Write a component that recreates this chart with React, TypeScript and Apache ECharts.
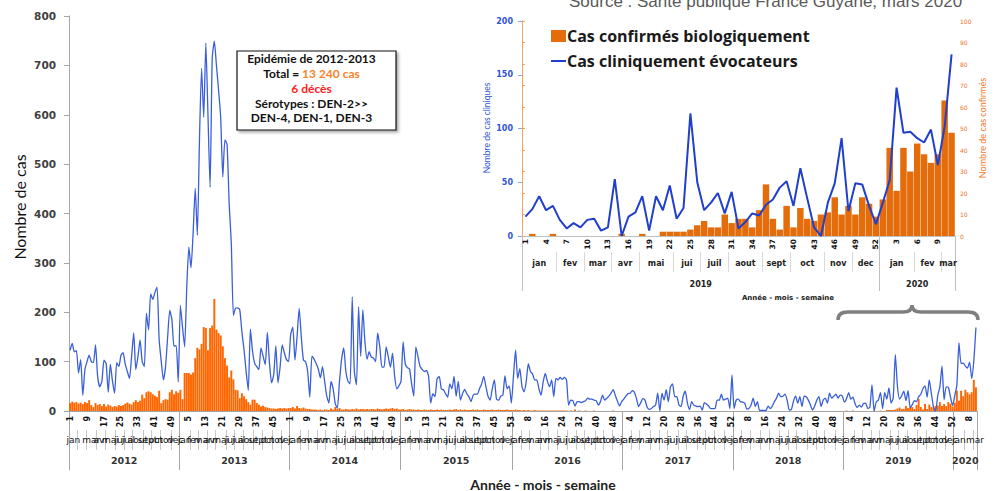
import React, { useEffect, useRef } from "react";
import * as echarts from "echarts";

// ---------- DATA ----------
const yearList = [2012, 2013, 2014, 2015, 2016, 2017, 2018, 2019, 2020];
const weeksInYear = [52, 52, 52, 53, 52, 52, 52, 52, 11];
const monthNames = ["jan", "fev", "mar", "avr", "mai", "jui", "juil", "aout", "sept", "oct", "nov", "dec"];

// Cas cliniquement évocateurs (weekly)
const clin2012 = [123,137,120,122,77,104,32,84,100,113,100,98,134,70,49,60,103,96,38,95,60,36,98,90,113,118,95,80,66,110,158,84,110,144,100,90,198,164,237,226,240,251,144,100,63,90,150,204,185,131,133,59];
const clin2013 = [214,170,130,250,332,290,360,451,356,550,694,595,745,600,453,714,749,700,650,595,474,549,540,420,340,194,208,209,205,160,124,80,42,166,121,97,90,84,128,111,94,159,97,57,74,132,57,89,134,118,104,100];
const clin2014 = [155,170,103,150,208,150,103,100,80,28,111,105,96,85,67,90,60,30,16,60,45,15,6,60,105,128,80,60,55,231,80,53,211,111,205,140,105,120,109,107,100,158,130,89,89,130,110,89,117,70,45,51];
const clin2015 = [60,140,95,88,85,55,30,130,110,90,84,80,82,70,16,35,29,65,70,45,43,35,28,55,45,70,30,60,22,35,44,35,29,19,32,34,34,45,55,70,50,30,22,45,63,24,22,30,32,71,45,51,16];
const clin2016 = [70,123,66,86,50,39,59,96,80,75,63,63,45,32,59,76,60,49,63,29,66,63,68,64,68,63,12,22,21,10,19,19,17,19,21,26,24,24,22,21,12,19,32,22,26,30,36,43,32,20,10,19];
const clin2017 = [24,30,35,36,41,38,25,9,17,25,22,8,3,5,9,12,36,0,36,22,43,19,49,55,29,29,12,9,30,40,16,3,19,12,10,9,10,2,17,14,10,5,5,5,22,22,34,22,24,26,5,73];
const clin2018 = [5,22,24,19,18,16,4,5,12,26,9,19,1,1,1,1,10,5,10,19,26,36,29,30,34,22,2,3,20,30,16,29,9,30,29,22,12,2,10,22,29,9,22,26,16,36,26,30,34,26,32,30];
const clin2019 = [18,25,37,24,28,15,7,12,8,15,16,5,8,53,0,18,22,37,5,37,24,47,16,26,114,50,24,31,40,21,41,7,13,21,19,29,34,45,51,28,63,35,8,0,31,49,91,23,49,48,28,11];
const clin2020 = [31,52,138,96,97,91,87,99,66,102,169];

// Cas confirmés biologiquement (weekly)
const conf2012 = [16,19,17,18,15,17,14,18,16,22,12,8,16,12,14,10,14,9,13,11,8,10,9,12,10,12,15,17,15,13,18,22,18,21,33,26,38,40,38,34,31,28,41,16,22,24,23,38,43,34,40,37];
const conf2013 = [43,24,77,77,77,74,78,107,128,125,136,170,168,123,168,173,227,165,158,153,131,107,92,68,82,64,43,42,26,36,30,24,18,13,23,23,16,13,9,11,8,7,6,5,5,4,5,6,5,6,5,6];
const conf2014 = [6,8,5,10,6,5,7,5,4,4,3,3,3,2,3,2,3,3,2,5,3,8,4,6,3,3,4,3,3,4,3,5,3,4,4,3,4,3,4,4,3,5,4,3,4,5,4,5,6,4,5,3];
const conf2015 = [3,4,2,3,4,3,3,2,3,2,2,3,2,2,3,2,2,3,2,3,2,2,2,3,2,3,4,2,3,2,3,2,2,2,3,2,3,2,2,3,2,2,2,3,2,2,3,2,2,2,3,2,2];
const conf2016 = [2,3,2,2,1,2,1,2,1,1,2,1,1,1,1,1,1,1,1,1,1,1,1,1,1,1,0,1,0,3,0,1,0,0,1,0,0,0,1,0,0,0,0,0,0,0,0,1,0,0,0,0];
const conf2017 = [0,0,0,0,0,0,0,0,0,0,0,0,0,0,0,0,0,0,0,0,0,0,0,0,0,0,0,0,0,0,0,0,0,0,0,0,0,0,0,0,0,0,0,0,0,0,0,0,0,0,0,0];
const conf2018 = [0,0,0,0,0,0,0,0,0,0,0,0,0,0,0,0,0,0,0,0,0,0,0,0,0,0,0,0,0,0,0,0,0,0,0,0,0,0,0,0,0,0,0,0,0,0,0,0,0,0,0,0];
const conf2019 = [0,1,0,0,1,0,0,0,0,0,0,0,0,0,1,0,0,1,0,0,2,2,2,2,3,5,7,4,4,10,6,8,8,4,12,24,8,3,14,4,13,8,7,10,11,18,10,14,10,18,15,9];
const conf2020 = [17,41,21,41,30,43,38,34,38,63,48];

const SERIES_CONF = "Cas confirmés biologiquement";
const SERIES_CLIN = "Cas cliniquement évocateurs";

// ---------- helpers (labels / grouping) ----------
type Wk = { year: number; week: number; month: number };
function buildWeeks(years: number[], counts: number[]): Wk[] {
  const out: Wk[] = [];
  years.forEach((y, i) => {
    const jan1 = Date.UTC(y, 0, 1);
    const dow = new Date(jan1).getUTCDay();
    const thu = jan1 + ((4 - dow + 7) % 7) * 86400000;
    for (let w = 1; w <= counts[i]; w++) {
      const d = new Date(thu + (w - 1) * 7 * 86400000);
      out.push({ year: y, week: w, month: d.getUTCMonth() });
    }
  });
  return out;
}
type Grp = { key: string; start: number; end: number; label: string };
function group(weeks: Wk[], keyFn: (w: Wk) => string, labelFn: (w: Wk) => string): Grp[] {
  const gs: Grp[] = [];
  weeks.forEach((w, i) => {
    const k = keyFn(w);
    const last = gs[gs.length - 1];
    if (last && last.key === k) last.end = i + 1;
    else gs.push({ key: k, start: i, end: i + 1, label: labelFn(w) });
  });
  return gs;
}
function groupAxis(gridIndex: number, groups: Grp[], n: number, offset: number, tickLen: number, tickColor: string, margin: number, labelStyle: any) {
  const centers = groups.map((g) => (g.start + g.end) / 2);
  const bounds = groups.map((g) => g.start).concat([n]);
  return {
    type: "value", gridIndex, position: "bottom", offset, min: 0, max: n,
    axisLine: { show: false, onZero: false },
    splitLine: { show: false },
    axisTick: { show: true, customValues: bounds, length: tickLen, lineStyle: { color: tickColor, width: 1 } },
    axisLabel: {
      customValues: centers, margin, hideOverlap: false, showMinLabel: true, showMaxLabel: true,
      formatter: (v: number) => { const i = centers.findIndex((c) => Math.abs(c - v) < 1e-6); return i >= 0 ? groups[i].label : ""; },
      ...labelStyle,
    },
  };
}

const BRACE_PATH = "M0,16 Q0,8 10,8 L65,8 Q74,8 74,1 Q74,8 83,8 L130,8 Q140,8 140,16";

function buildOption() {
  const weeks = buildWeeks(yearList, weeksInYear);
  const N = weeks.length;
  const clinAll = [...clin2012, ...clin2013, ...clin2014, ...clin2015, ...clin2016, ...clin2017, ...clin2018, ...clin2019, ...clin2020];
  const confAll = [...conf2012, ...conf2013, ...conf2014, ...conf2015, ...conf2016, ...conf2017, ...conf2018, ...conf2019, ...conf2020];
  const mainCats = weeks.map((w) => `${w.year}-${w.week}`);
  const monthGroups = group(weeks, (w) => `${w.year}-${w.month}`, (w) => monthNames[w.month]);
  const yearGroups = group(weeks, (w) => `${w.year}`, (w) => `${w.year}`);

  const insetWeeks = buildWeeks([2019, 2020], [52, 11]);
  const M = insetWeeks.length;
  const insetCats = insetWeeks.map((w) => `${w.year}-${w.week}`);
  const insetClin = [...clin2019, ...clin2020];
  const insetConf = [...conf2019, ...conf2020];
  const insetMonths = group(insetWeeks, (w) => `${w.year}-${w.month}`, (w) => monthNames[w.month]);
  const insetYears = group(insetWeeks, (w) => `${w.year}`, (w) => `${w.year}`);

  const dv = "DejaVu Sans";
  return {
    animation: false,
    textStyle: { fontFamily: dv },
    grid: [
      { left: 69, right: 20, top: 16, bottom: 80 },
      { left: 522, right: 42, top: 21, bottom: 255 },
    ],
    legend: {
      orient: "vertical", left: 546, top: 23, itemGap: 9, itemWidth: 15, itemHeight: 12,
      selectedMode: false,
      textStyle: { fontFamily: "Open Sans", fontWeight: "bold", fontSize: 16, color: "#1a1a1a", padding: [0, 0, 0, -4] },
      data: [
        { name: SERIES_CONF, icon: "rect", itemStyle: { color: "#e46c0a" } },
        { name: SERIES_CLIN, icon: "path://M0,0 L20,0 L20,2.6 L0,2.6 Z", itemStyle: { color: "#1f3fcc" } },
      ],
    },
    xAxis: [
      {
        type: "category", gridIndex: 0, position: "bottom", data: mainCats, boundaryGap: true,
        axisLine: { onZero: false, lineStyle: { color: "#a6a6a6" } },
        axisTick: { interval: 0, length: 18, lineStyle: { color: "#b8b8b8" } },
        axisLabel: { interval: 7, rotate: 90, margin: 5, fontSize: 8, fontWeight: "bold", color: "#111", formatter: (v: string) => v.split("-")[1] },
      },
      groupAxis(0, monthGroups, N, 19, 20, "#c8c8c8", 5, { fontSize: 9, color: "#111" }),
      groupAxis(0, yearGroups, N, 0, 59, "#a6a6a6", 44, { fontSize: 9.5, fontWeight: "bold", color: "#333" }),
      {
        type: "category", gridIndex: 1, position: "bottom", data: insetCats, boundaryGap: true,
        axisLine: { onZero: false, lineStyle: { color: "#bfbfbf" } },
        axisTick: { interval: 0, length: 4, lineStyle: { color: "#bfbfbf" } },
        axisLabel: { interval: 2, rotate: 90, margin: 3, fontSize: 7.5, fontWeight: "bold", color: "#111", formatter: (v: string) => v.split("-")[1] },
      },
      groupAxis(1, insetMonths, M, 16, 20, "#d9d9d9", 7, { fontSize: 8, fontWeight: "bold", color: "#222" }),
      groupAxis(1, insetYears, M, 0, 55, "#bfbfbf", 44, { fontSize: 8, fontWeight: "bold", color: "#222" }),
    ],
    yAxis: [
      {
        type: "value", gridIndex: 0, min: 0, max: 800, interval: 100,
        axisLine: { show: true, lineStyle: { color: "#a6a6a6" } },
        axisTick: { show: true, length: 5, lineStyle: { color: "#a6a6a6" } },
        splitLine: { show: false },
        axisLabel: { margin: 13, fontSize: 10.5, fontWeight: "bold", color: "#404040" },
      },
      {
        type: "value", gridIndex: 1, position: "left", min: 0, max: 200, interval: 50,
        axisLine: { show: true, lineStyle: { color: "#8ea2de" } },
        axisTick: { show: true, length: 4, lineStyle: { color: "#8ea2de" } },
        splitLine: { show: false },
        axisLabel: { margin: 9, fontSize: 8, fontWeight: "bold", color: "#2f55d4" },
      },
      {
        type: "value", gridIndex: 1, position: "right", min: 0, max: 100, interval: 10,
        axisLine: { show: true, lineStyle: { color: "#f4a460" } },
        axisTick: { show: true, length: 3, lineStyle: { color: "#f4a460" } },
        splitLine: { show: false },
        axisLabel: { margin: 5, fontSize: 6, color: "#e8742a" },
      },
    ],
    series: [
      { type: "bar", name: SERIES_CONF, xAxisIndex: 3, yAxisIndex: 2, data: insetConf, barCategoryGap: "6%", itemStyle: { color: "#e46c0a" } },
      { type: "line", name: SERIES_CLIN, xAxisIndex: 3, yAxisIndex: 1, data: insetClin, symbol: "none", lineStyle: { color: "#1f3fcc", width: 2 }, itemStyle: { color: "#1f3fcc" } },
      { type: "bar", name: SERIES_CONF, xAxisIndex: 0, yAxisIndex: 0, data: confAll, barCategoryGap: "8%", itemStyle: { color: "#ff6600" } },
      { type: "line", name: SERIES_CLIN, xAxisIndex: 0, yAxisIndex: 0, data: clinAll, symbol: "none", smooth: 0.2, lineStyle: { color: "#3a5fd9", width: 1.3 }, itemStyle: { color: "#3a5fd9" } },
    ],
    graphic: [
      { type: "text", x: 569, y: 1, style: { text: "Source : Santé publique France Guyane, mars 2020", fontFamily: "Liberation Sans", fontSize: 17, fill: "#595959", verticalAlign: "middle" } },
      {
        type: "group", x: 237, y: 51,
        children: [
          { type: "rect", shape: { x: 0, y: 0, width: 159, height: 79 }, style: { fill: "#fff", stroke: "#111", lineWidth: 1.2, shadowBlur: 3, shadowOffsetX: 2, shadowOffsetY: 2, shadowColor: "rgba(0,0,0,0.35)" } },
          { type: "text", x: 74.5, y: 7.5, style: { text: "Epidémie de 2012-2013", fontFamily: "Lato", fontWeight: "bold", fontSize: 12, fill: "#111", align: "center", verticalAlign: "middle" } },
          { type: "text", x: 74.5, y: 22, style: { text: "{k|Total = }{o|13 240 cas}", align: "center", verticalAlign: "middle", rich: { k: { fontFamily: "Lato", fontWeight: "bold", fontSize: 12, fill: "#111", color: "#111" }, o: { fontFamily: "Lato", fontWeight: "bold", fontSize: 12, fill: "#f7832a", color: "#f7832a" } } } },
          { type: "text", x: 74.5, y: 37, style: { text: "6 décès", fontFamily: "Lato", fontWeight: "bold", fontSize: 12, fill: "#ff2020", align: "center", verticalAlign: "middle" } },
          { type: "text", x: 74.5, y: 52, style: { text: "Sérotypes : DEN-2>>", fontFamily: "Lato", fontWeight: "bold", fontSize: 12, fill: "#111", align: "center", verticalAlign: "middle" } },
          { type: "text", x: 74.5, y: 66.5, style: { text: "DEN-4, DEN-1, DEN-3", fontFamily: "Lato", fontWeight: "bold", fontSize: 12, fill: "#111", align: "center", verticalAlign: "middle" } },
        ],
      },
      { type: "text", x: 19, y: 207, rotation: Math.PI / 2, style: { text: "Nombre de cas", fontFamily: "Lato", fontSize: 16, fill: "#111", align: "center", verticalAlign: "middle" } },
      { type: "text", x: 543, y: 484, style: { text: "Année - mois - semaine", fontFamily: "Lato", fontWeight: "bold", fontSize: 14, fill: "#222", align: "center", verticalAlign: "middle" } },
      { type: "text", x: 487, y: 128, rotation: Math.PI / 2, style: { text: "Nombre de cas cliniques", fontFamily: "Lato", fontSize: 8.5, fill: "#2f55d4", align: "center", verticalAlign: "middle" } },
      { type: "text", x: 982, y: 128, rotation: Math.PI / 2, style: { text: "Nombre de cas confirmés", fontFamily: "Lato", fontSize: 9, fill: "#f07828", align: "center", verticalAlign: "middle" } },
      { type: "text", x: 788, y: 298, style: { text: "Année - mois - semaine", fontFamily: dv, fontWeight: "bold", fontSize: 7, fill: "#222", align: "center", verticalAlign: "middle" } },
      { type: "brace", x: 838, y: 304, shape: {}, style: { fill: "none", stroke: "#7f7f7f", lineWidth: 3.5 } },
    ],
  };
}

let braceRegistered = false;

export default function App() {
  const ref = useRef<HTMLDivElement>(null);
  useEffect(() => {
    if (!ref.current) return;
    if (!braceRegistered) {
      echarts.graphic.registerShape("brace", echarts.graphic.extendPath(BRACE_PATH, {}) as any);
      braceRegistered = true;
    }
    const chart = echarts.init(ref.current, null, { renderer: "svg" });
    chart.setOption(buildOption() as any);
    return () => chart.dispose();
  }, []);
  return <div ref={ref} style={{ position: "fixed", left: 0, top: 0, width: 997, height: 491, background: "#fff" }} />;
}
